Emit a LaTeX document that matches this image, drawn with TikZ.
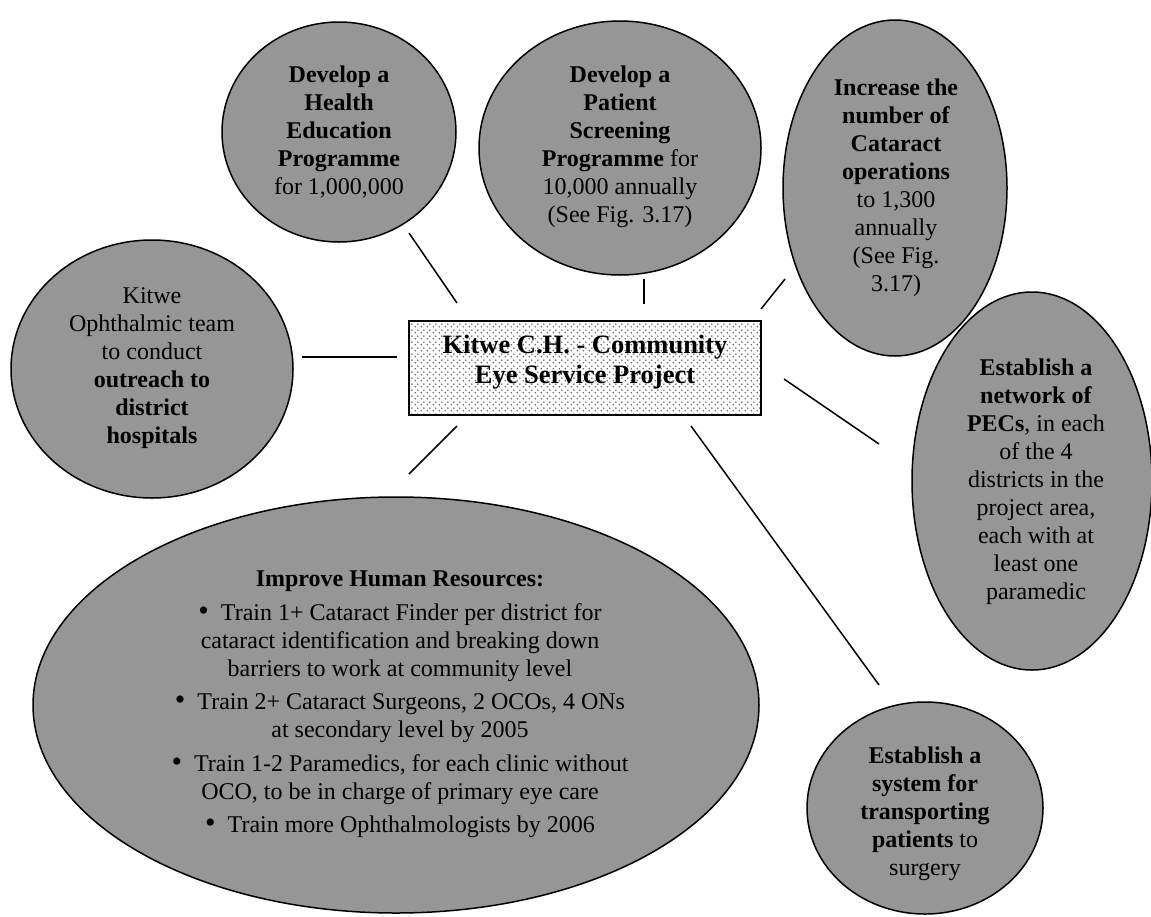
\documentclass[tikz,border=0pt]{standalone}
\usepackage{fontspec}
\setmainfont{Liberation Serif}
\usetikzlibrary{shapes.geometric,patterns.meta}
\definecolor{bubble}{RGB}{150,150,150}
\definecolor{dotgray}{RGB}{95,95,95}
\tikzdeclarepattern{
  name=boxdots,
  type=uncolored,
  bottom left={(0pt,0pt)},
  top right={(6pt,6pt)},
  tile size={(6pt,6pt)},
  code={
    \fill (1.5pt,1.5pt) circle (0.95pt);
    \fill (4.5pt,4.5pt) circle (0.95pt);
  }
}
\newcommand{\bigbul}{{\fontsize{30}{28}\selectfont\textbullet}\hspace{12pt}}
\tikzset{
  bub/.style={ellipse, draw=black, line width=1.5pt, fill=bubble, inner sep=0pt},
  txt/.style={align=center, inner sep=0pt, font=\fontsize{24}{28}\selectfont},
  hub/.style={rectangle, draw=black, line width=1.5pt, pattern={boxdots}, pattern color=dotgray,
              minimum width=352pt, minimum height=94pt, inner sep=0pt},
  hubtxt/.style={align=center, inner sep=0pt, font=\fontsize{26.5}{30}\selectfont\bfseries},
  link/.style={line width=1.5pt, draw=black}
}
\begin{document}
\begin{tikzpicture}[x=1pt,y=-1pt]
\useasboundingbox (0,0) rectangle (1151,916);

% bubbles
\node[bub, minimum width=234pt, minimum height=220pt] (he) at (339,132) {};
\node[txt] (het) at (339,132) {\textbf{Develop a}\\ \textbf{Health}\\ \textbf{Education}\\ \textbf{Programme}\\ for 1,000,000};

\node[bub, minimum width=282pt, minimum height=254pt] (ps) at (620,148) {};
\node[txt] (pst) at (620,147) {\textbf{Develop a}\\ \textbf{Patient}\\ \textbf{Screening}\\ \textbf{Programme} for\\ 10,000 annually\\ (See Fig. 3.17)};

\node[bub, minimum width=224pt, minimum height=336pt] (ca) at (895,188) {};
\node[txt] (cat) at (896,188) {\textbf{Increase the}\\ \textbf{number of}\\ \textbf{Cataract}\\ \textbf{operations}\\ to 1,300\\ annually\\ (See Fig.\\ 3.17)};

\node[bub, minimum width=240pt, minimum height=378pt] (pec) at (1032,481) {};
\node[txt] (pect) at (1036,482) {\textbf{Establish a}\\ \textbf{network of}\\ \textbf{PECs}, in each\\ of the 4\\ districts in the\\ project area,\\ each with at\\ least one\\ paramedic};

\node[bub, minimum width=236pt, minimum height=212pt] (tr) at (925,808) {};
\node[txt] (trt) at (925,814) {\textbf{Establish a}\\ \textbf{system for}\\ \textbf{transporting}\\ \textbf{patients} to\\ surgery};

\node[bub, minimum width=282pt, minimum height=258pt] (ko) at (152,369) {};
\node[txt] (kot) at (152,368) {Kitwe\\ Ophthalmic team\\ to conduct\\ \textbf{outreach to}\\ \textbf{district}\\ \textbf{hospitals}};

\node[bub, minimum width=726pt, minimum height=416pt] (hr) at (396,705) {};
\node[txt] (hrt) at (400,704) {\textbf{Improve Human Resources:}\\[6pt]
\bigbul Train 1+ Cataract Finder per district for\\
cataract identification and breaking down\\
barriers to work at community level\\[5pt]
\bigbul Train 2+ Cataract Surgeons, 2 OCOs, 4 ONs\\
at secondary level by 2005\\[6pt]
\bigbul Train 1-2 Paramedics, for each clinic without\\
OCO, to be in charge of primary eye care\\[5pt]
\bigbul Train more Ophthalmologists by 2006};

% hub
\node[hub] (hub) at (585,368) {};
\node[hubtxt] (hubt) at (585,362) {Kitwe C.H. - Community\\ Eye Service Project};

% connector end points
\coordinate (c1a) at (409,233); \coordinate (c1b) at (457,303);
\coordinate (c2a) at (644,279); \coordinate (c2b) at (644,304);
\coordinate (c3a) at (785,279); \coordinate (c3b) at (761,309);
\coordinate (c4a) at (302,357); \coordinate (c4b) at (397,357);
\coordinate (c5a) at (784,379); \coordinate (c5b) at (879,444);
\coordinate (c6a) at (691,426); \coordinate (c6b) at (879,685);
\coordinate (c7a) at (457,426); \coordinate (c7b) at (409,474);

\draw[link] (c1a) -- (c1b);
\draw[link] (c2a) -- (c2b);
\draw[link] (c3a) -- (c3b);
\draw[link] (c4a) -- (c4b);
\draw[link] (c5a) -- (c5b);
\draw[link] (c6a) -- (c6b);
\draw[link] (c7a) -- (c7b);
\end{tikzpicture}
\end{document}
